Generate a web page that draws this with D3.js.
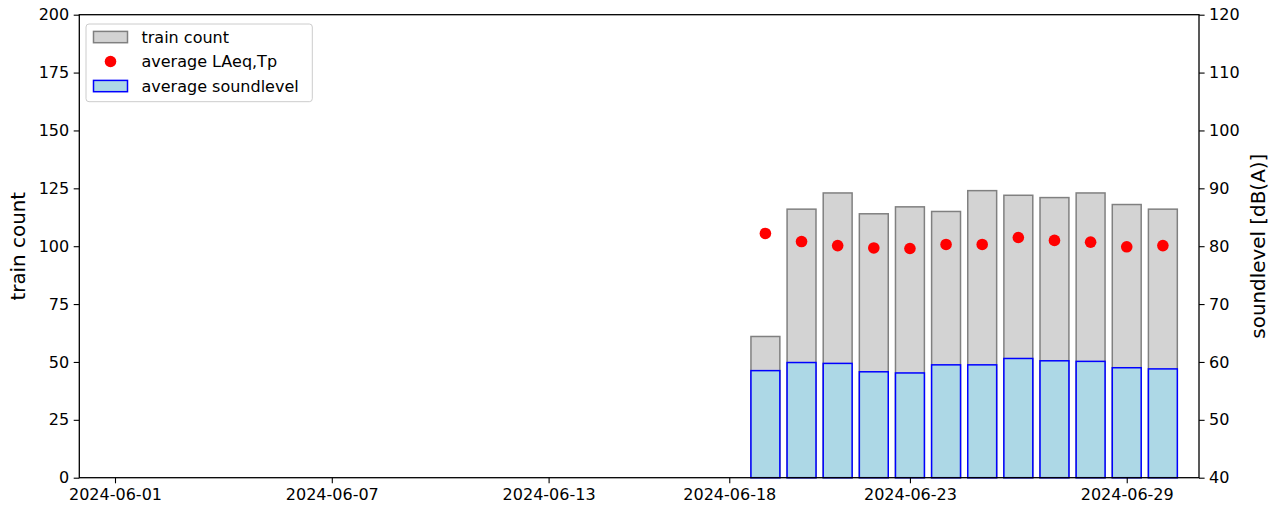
<!DOCTYPE html>
<html><head><meta charset="utf-8">
<script src="https://cdn.jsdelivr.net/npm/d3@7"></script>
<style>body{margin:0;background:#fff}svg{display:block;font-family:"DejaVu Sans",sans-serif}</style>
</head><body><svg id="c" width="1278" height="509"></svg>
<script>
const dates = ["2024-06-19","2024-06-20","2024-06-21","2024-06-22","2024-06-23","2024-06-24","2024-06-25","2024-06-26","2024-06-27","2024-06-28","2024-06-29","2024-06-30"];
const trainCount = [61,116,123,114,117,115,124,122,121,123,118,116];
const avgSoundlevel = [58.5,59.9,59.75,58.3,58.1,59.5,59.5,60.6,60.2,60.1,59.0,58.8];
const avgLAeqTp = [82.2,80.8,80.1,79.7,79.6,80.3,80.3,81.5,81.0,80.7,79.9,80.1];
const xTickLabels = ["2024-06-01","2024-06-07","2024-06-13","2024-06-18","2024-06-23","2024-06-29"];
const leftTicks = [0,25,50,75,100,125,150,175,200];
const rightTicks = [40,50,60,70,80,90,100,110,120];

const parse = d3.utcParse("%Y-%m-%d");
const DAY = 86400000;
const L = 79.3, R = 1199, T = 14.7, B = 477.7;
const t0 = parse("2024-06-01").getTime();
const x = d3.scaleUtc().domain([new Date(t0 - 0.988*DAY), new Date(t0 + 30.0*DAY)]).range([L, R]);
const yL = d3.scaleLinear().domain([0,200]).range([B,T]);
const yR = d3.scaleLinear().domain([40,120]).range([B,T]);
const svg = d3.select("#c");
const bw = x(new Date(t0 + 0.8*DAY)) - x(new Date(t0));

const g = svg.append("g");
g.selectAll("rect.tc").data(dates).join("rect")
  .attr("x", (d)=>x(parse(d)) - bw/2).attr("width", bw)
  .attr("y", (d,i)=>yL(trainCount[i])).attr("height", (d,i)=>yL(0)-yL(trainCount[i]))
  .attr("fill","#d3d3d3").attr("stroke","#808080").attr("stroke-width",1.5);
g.selectAll("rect.sl").data(dates).join("rect")
  .attr("x", (d)=>x(parse(d)) - bw/2).attr("width", bw)
  .attr("y", (d,i)=>yR(avgSoundlevel[i])).attr("height", (d,i)=>yR(40)-yR(avgSoundlevel[i]))
  .attr("fill","#add8e6").attr("stroke","#0000ff").attr("stroke-width",1.5);
g.selectAll("circle").data(dates).join("circle")
  .attr("cx", (d)=>x(parse(d))).attr("cy", (d,i)=>yR(avgLAeqTp[i])).attr("r",5.8)
  .attr("fill","#ff0000");

// axes
const fs = 16;
const axL = svg.append("g").attr("transform",`translate(${L},0)`)
  .call(d3.axisLeft(yL).tickValues(leftTicks).tickSize(5.6).tickPadding(4.5));
const axR = svg.append("g").attr("transform",`translate(${R},0)`)
  .call(d3.axisRight(yR).tickValues(rightTicks).tickSize(5.6).tickPadding(4.5));
const axB = svg.append("g").attr("transform",`translate(0,${B})`)
  .call(d3.axisBottom(x).tickValues(xTickLabels.map(parse)).tickFormat(d3.utcFormat("%Y-%m-%d")).tickSize(5.6).tickPadding(5));
[axL,axR,axB].forEach(a=>{
  a.select(".domain").remove();
  a.selectAll("line").attr("stroke","#000").attr("stroke-width",1.1);
  a.selectAll("text").attr("font-size",fs).attr("font-family","DejaVu Sans").attr("fill","#000");
});
svg.append("rect").attr("x",L).attr("y",T).attr("width",R-L).attr("height",B-T)
  .attr("fill","none").attr("stroke","#000").attr("stroke-width",1.3);

svg.append("text").attr("transform",`translate(25,${(T+B)/2}) rotate(-90)`)
  .attr("text-anchor","middle").attr("font-size",19.9).text("train count");
svg.append("text").attr("transform",`translate(1264.5,${(T+B)/2}) rotate(-90)`)
  .attr("text-anchor","middle").attr("font-size",19.9).text("soundlevel [dB(A)]");

// legend
const lg = svg.append("g");
lg.append("rect").attr("x",86).attr("y",24).attr("width",226.3).attr("height",77.7).attr("rx",3)
  .attr("fill","#fff").attr("fill-opacity",0.8).attr("stroke","#cccccc").attr("stroke-width",1);
const items = [
  {label:"train count", type:"rect", fill:"#d3d3d3", stroke:"#808080"},
  {label:"average LAeq,Tp", type:"dot", fill:"#ff0000"},
  {label:"average soundlevel", type:"rect", fill:"#add8e6", stroke:"#0000ff"}
];
items.forEach((it,i)=>{
  const cy = 37 + i*24.5;
  if(it.type==="rect"){
    lg.append("rect").attr("x",93.5).attr("y",cy-5.6).attr("width",34).attr("height",11.3)
      .attr("fill",it.fill).attr("stroke",it.stroke).attr("stroke-width",1.5);
  } else {
    lg.append("circle").attr("cx",110.5).attr("cy",cy).attr("r",5.8).attr("fill",it.fill);
  }
  lg.append("text").attr("x",141.5).attr("y",cy+5.8).attr("font-size",fs).text(it.label);
});
</script></body></html>
